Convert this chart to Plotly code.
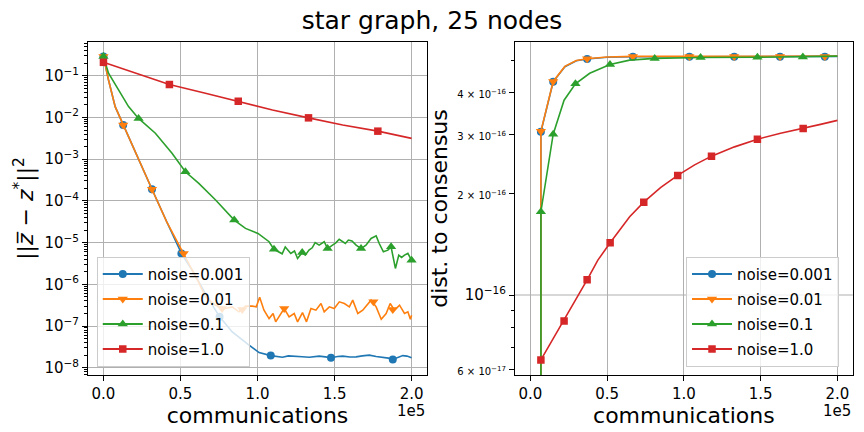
import plotly.graph_objects as go

# ---------------- data ----------------
NAMES = ["noise=0.001", "noise=0.01", "noise=0.1", "noise=1.0"]
COLORS = ["#1f77b4", "#ff7f0e", "#2ca02c", "#d62728"]
SYMBOLS = ["circle", "triangle-down", "triangle-up", "square"]
SIZES = [8, 9, 9, 7.5]

X_TICKS = [0, 50000, 100000, 150000, 200000]
X_LABELS = ["0.0", "0.5", "1.0", "1.5", "2.0"]

# left panel: ||zbar - z*||^2 vs communications
l_x_001 = [0, 3300, 7600, 12800, 20000, 31500, 41000, 50600, 57500, 66200, 75400, 83600, 94500,
           101000, 108600, 112000, 116200, 120000, 124900, 129000, 133600, 137000, 140000, 144000,
           147700, 152000, 155300, 160000, 164000, 168000, 172600, 177000, 181300, 185000, 187800,
           191000, 194300, 197000, 200000]
l_y_001 = [0.288, 0.0794, 0.0182, 0.0066, 0.0017, 1.9e-4, 3.2e-5, 5.5e-6, 2.2e-6, 6.0e-7, 1.66e-7,
           7.2e-8, 3.5e-8, 2.3e-8, 1.95e-8, 1.85e-8, 1.78e-8, 1.92e-8, 1.9e-8, 1.83e-8, 1.78e-8,
           1.88e-8, 1.9e-8, 1.82e-8, 1.74e-8, 1.86e-8, 1.9e-8, 1.8e-8, 1.82e-8, 1.92e-8, 2.0e-8,
           1.85e-8, 1.78e-8, 1.7e-8, 1.58e-8, 1.75e-8, 1.95e-8, 1.9e-8, 1.74e-8]
l_mx_001 = [0, 12800, 31500, 50600, 75400, 108600, 147700, 187800]
l_my_001 = [0.288, 0.0066, 1.9e-4, 5.5e-6, 1.66e-7, 1.95e-8, 1.74e-8, 1.58e-8]

l_x_01 = [0, 3300, 7600, 12800, 20000, 31500, 41000, 52100, 57500, 61900, 66200, 72700, 79200,
          83600, 87900, 92300, 96600, 99200, 101400, 104200, 107500, 110100, 111800, 115000,
          117300, 120500, 123800, 126000, 129200, 131800, 134700, 137900, 141200, 143300, 146600,
          149800, 153100, 156400, 159600, 161800, 165100, 168300, 171600, 173700, 177000, 180300,
          183500, 186100, 188900, 192200, 195400, 197600, 199200, 200000]
l_y_01 = [0.288, 0.0794, 0.0182, 0.0066, 0.0017, 1.9e-4, 3.2e-5, 5.5e-6, 2.2e-6, 1.1e-6, 5.0e-7,
          3.16e-7, 2.63e-7, 2.88e-7, 2.19e-7, 3.0e-7, 3.0e-7, 2.88e-7, 4.9e-7, 2.4e-7, 1.51e-7,
          2.0e-7, 1.26e-7, 2.0e-7, 2.63e-7, 1.66e-7, 2.0e-7, 1.26e-7, 2.1e-7, 1.26e-7, 2.63e-7,
          2.4e-7, 3.47e-7, 2.19e-7, 2.88e-7, 2.63e-7, 3.8e-7, 3.47e-7, 2.88e-7, 4.17e-7, 2.0e-7,
          2.4e-7, 3.47e-7, 4.17e-7, 2.88e-7, 1.45e-7, 2.0e-7, 3.47e-7, 2.4e-7, 3.16e-7, 2.0e-7,
          2.19e-7, 1.45e-7, 1.82e-7]
l_mx_01 = [0, 12800, 31500, 52100, 77000, 90100, 117300, 175200, 187800]
l_my_01 = [0.288, 0.0066, 1.9e-4, 5.5e-6, 2.63e-7, 2.5e-7, 2.63e-7, 3.8e-7, 2.5e-7]

l_x_1 = [0, 3300, 9800, 16300, 22800, 33700, 44500, 53200, 61900, 72800, 84900, 92200, 100300,
         107500, 110700, 114000, 116000, 118000, 121600, 124000, 126000, 129000, 131000, 133400,
         135500, 137400, 140000, 143300, 145500, 148700, 151000, 153000, 155000, 157000, 159000,
         161300, 164000, 167200, 170400, 173700, 177000, 179000, 181700, 184600, 186700, 188000,
         189500, 191700, 193500, 195400, 197600, 200000]
l_y_1 = [0.288, 0.115, 0.0457, 0.0182, 0.0095, 0.0042, 0.00138, 5.0e-4, 2.63e-4, 1.05e-4, 3.47e-5,
         2.19e-5, 1.66e-5, 1.05e-5, 6.9e-6, 6.0e-6, 5.4e-6, 7.9e-6, 5.5e-6, 6.3e-6, 4.17e-6,
         5.75e-6, 5.0e-6, 6.6e-6, 7.5e-6, 1.0e-5, 8.7e-6, 1.05e-5, 7.2e-6, 8.7e-6, 1.0e-5, 1.2e-5,
         1.05e-5, 9.5e-6, 1.15e-5, 1.1e-5, 8.7e-6, 7.2e-6, 8.7e-6, 1.26e-5, 1.45e-5, 9.5e-6,
         6.0e-6, 6.6e-6, 7.9e-6, 4.5e-6, 2.4e-6, 5.0e-6, 4.4e-6, 5.0e-6, 5.5e-6, 3.8e-6]
l_mx_1 = [0, 22800, 53200, 84900, 110700, 129000, 145500, 167200, 186700, 200000]
l_my_1 = [0.288, 0.0095, 5.0e-4, 3.47e-5, 6.9e-6, 5.75e-6, 7.2e-6, 7.2e-6, 7.9e-6, 3.8e-6]

l_x_10 = [0, 20600, 42800, 66200, 87500, 109700, 133100, 155300, 178100, 200000]
l_y_10 = [0.21, 0.115, 0.0617, 0.038, 0.0245, 0.0151, 0.0098, 0.0066, 0.0047, 0.00316]
l_mx_10 = [0, 42800, 87500, 133100, 178100]
l_my_10 = [0.21, 0.0617, 0.0245, 0.0098, 0.0047]

# right panel: distance to consensus vs communications
r_x_001 = [6900, 6900, 14900, 22500, 30000, 37000, 50000, 66800, 103600, 132800, 162600, 191800, 200000]
r_y_001 = [1e-18, 3.06e-16, 4.31e-16, 4.78e-16, 4.98e-16, 5.04e-16, 5.10e-16, 5.12e-16, 5.12e-16,
           5.12e-16, 5.12e-16, 5.12e-16, 5.13e-16]
r_mx_001 = [6900, 14900, 37000, 66800, 103600, 132800, 162600, 191800]
r_my_001 = [3.06e-16, 4.31e-16, 5.04e-16, 5.12e-16, 5.12e-16, 5.12e-16, 5.12e-16, 5.12e-16]

r_x_01 = [6900, 6900, 14900, 22500, 30000, 37000, 50000, 66800, 103600, 132800, 162600, 191800, 200000]
r_y_01 = [1e-18, 3.07e-16, 4.32e-16, 4.79e-16, 4.99e-16, 5.05e-16, 5.11e-16, 5.13e-16, 5.13e-16,
          5.13e-16, 5.13e-16, 5.13e-16, 5.14e-16]
r_mx_01 = [6900, 14900, 37000, 66800, 103600, 132800, 162600, 191800]
r_my_01 = [3.07e-16, 4.32e-16, 5.05e-16, 5.13e-16, 5.13e-16, 5.13e-16, 5.13e-16, 5.13e-16]

r_x_1 = [6900, 6900, 14900, 22000, 29400, 38700, 51900, 64700, 81000, 110900, 147900, 177500, 200000]
r_y_1 = [1e-18, 1.77e-16, 3.01e-16, 3.80e-16, 4.25e-16, 4.57e-16, 4.85e-16, 5.0e-16, 5.06e-16,
         5.09e-16, 5.10e-16, 5.11e-16, 5.14e-16]
r_mx_1 = [6900, 14900, 29400, 51900, 81000, 110900, 147900, 177500]
r_my_1 = [1.77e-16, 3.01e-16, 4.25e-16, 4.85e-16, 5.06e-16, 5.09e-16, 5.10e-16, 5.11e-16]

r_x_10 = [6900, 14000, 22000, 30000, 37000, 44000, 52000, 64700, 73900, 85000, 96000, 107000,
          118000, 133000, 147900, 163000, 177700, 189000, 200000]
r_y_10 = [6.41e-17, 7.3e-17, 8.37e-17, 9.7e-17, 1.11e-16, 1.27e-16, 1.43e-16, 1.71e-16, 1.89e-16,
          2.09e-16, 2.27e-16, 2.44e-16, 2.59e-16, 2.76e-16, 2.91e-16, 3.03e-16, 3.13e-16, 3.22e-16,
          3.31e-16]
r_mx_10 = [6900, 22000, 37000, 52000, 73900, 96000, 118000, 147900, 177700]
r_my_10 = [6.41e-17, 8.37e-17, 1.11e-16, 1.43e-16, 1.89e-16, 2.27e-16, 2.59e-16, 2.91e-16, 3.13e-16]

LEFT_Y_EXP = [-8, -7, -6, -5, -4, -3, -2, -1]
RIGHT_Y_TICKS = [6e-17, 1e-16, 2e-16, 3e-16, 4e-16]
RIGHT_Y_LABELS = ["6 × 10<sup>−17</sup>", "10<sup>−16</sup>", "2 × 10<sup>−16</sup>",
                  "3 × 10<sup>−16</sup>", "4 × 10<sup>−16</sup>"]
RIGHT_Y_MINOR = [7e-17, 8e-17, 9e-17, 5e-16]

# ---------------- figure ----------------
fig = go.Figure()

left = [(l_x_001, l_y_001, l_mx_001, l_my_001), (l_x_01, l_y_01, l_mx_01, l_my_01),
        (l_x_1, l_y_1, l_mx_1, l_my_1), (l_x_10, l_y_10, l_mx_10, l_my_10)]
right = [(r_x_001, r_y_001, r_mx_001, r_my_001), (r_x_01, r_y_01, r_mx_01, r_my_01),
         (r_x_1, r_y_1, r_mx_1, r_my_1), (r_x_10, r_y_10, r_mx_10, r_my_10)]

LW = 1.6
for panel, xa, ya, leg in [(left, "x", "y", "legend"), (right, "x2", "y2", "legend2")]:
    for i, (x, y, mx, my) in enumerate(panel):
        fig.add_trace(go.Scatter(x=x, y=y, mode="lines", line=dict(color=COLORS[i], width=LW),
                                 xaxis=xa, yaxis=ya, showlegend=False, hoverinfo="skip"))
        fig.add_trace(go.Scatter(x=mx, y=my, mode="markers",
                                 marker=dict(symbol=SYMBOLS[i], size=SIZES[i], color=COLORS[i]),
                                 xaxis=xa, yaxis=ya, showlegend=False))
    for i in range(4):
        fig.add_trace(go.Scatter(x=[None], y=[None], mode="lines+markers", name=NAMES[i],
                                 line=dict(color=COLORS[i], width=2),
                                 marker=dict(symbol=SYMBOLS[i], size=SIZES[i], color=COLORS[i]),
                                 xaxis=xa, yaxis=ya, legend=leg, legendgroup=f"{leg}_{i}"))

GRID = "#b0b0b0"
common_axis = dict(showline=True, mirror=True, linecolor="black", linewidth=1.1,
                   ticks="outside", ticklen=5, tickwidth=1.1, tickcolor="black",
                   gridcolor=GRID, gridwidth=1.1, zeroline=False, automargin=False,
                   tickfont=dict(size=15, color="black"))

left_minor = [m * 10.0 ** e for e in range(-9, 0) for m in range(2, 10)]

legend_style = dict(xanchor="left", yanchor="bottom", y=0.151,
                    bgcolor="rgba(255,255,255,0.8)", bordercolor="#cccccc", borderwidth=1,
                    font=dict(size=15), traceorder="grouped", tracegroupgap=2.5, itemwidth=40)

fig.update_layout(
    width=864, height=432, margin=dict(l=0, r=0, t=0, b=0),
    paper_bgcolor="white", plot_bgcolor="white",
    font=dict(family="DejaVu Sans", size=15, color="black"),
    title=dict(text="star graph, 25 nodes", x=0.5, xanchor="center", y=0.953, yanchor="middle",
               yref="container", font=dict(size=25, color="black")),
    xaxis=dict(domain=[0.1019, 0.4942], anchor="y", range=[-10000, 210000],
               tickmode="array", tickvals=X_TICKS, ticktext=X_LABELS, showgrid=True,
               title=dict(text="communications", font=dict(size=22), standoff=0), **common_axis),
    yaxis=dict(domain=[0.1319, 0.9028], anchor="x", type="log", range=[-8.175, -0.19],
               tickmode="array", tickvals=[10.0 ** e for e in LEFT_Y_EXP],
               ticktext=[f"10<sup>−{-e}</sup>" for e in LEFT_Y_EXP], showgrid=True,
               minor=dict(tickmode="array", tickvals=left_minor, ticks="outside", ticklen=2.8,
                          tickwidth=0.8, tickcolor="black", showgrid=False),
               title=dict(text="||<i>z̅</i> − <i>z</i><sup>*</sup>||<sup>2</sup>", font=dict(size=22), standoff=4),
               **common_axis),
    xaxis2=dict(domain=[0.596, 0.987], anchor="y2", range=[-10000, 210000],
                tickmode="array", tickvals=X_TICKS, ticktext=X_LABELS, showgrid=True,
                title=dict(text="communications", font=dict(size=22), standoff=0), **common_axis),
    yaxis2=dict(domain=[0.1319, 0.9028], anchor="x2", type="log", range=[-16.238, -15.247],
                tickmode="array", tickvals=RIGHT_Y_TICKS,
                ticktext=[t if t.startswith("10") else f"<span style='font-size:10px'>{t}</span>"
                          for t in RIGHT_Y_LABELS],
                showgrid=False,
                minor=dict(tickmode="array", tickvals=RIGHT_Y_MINOR, ticks="outside", ticklen=2.8,
                           tickwidth=0.8, tickcolor="black", showgrid=False),
                title=dict(text="dist. to consensus", font=dict(size=22), standoff=3),
                **common_axis),
    legend=dict(x=0.112, **legend_style),
    legend2=dict(x=0.794, **legend_style),
    annotations=[
        dict(text="1e5", xref="paper", yref="paper", x=0.4942, y=1 - 411 / 432, xanchor="right",
             yanchor="middle", showarrow=False, font=dict(size=15)),
        dict(text="1e5", xref="paper", yref="paper", x=0.987, y=1 - 411 / 432, xanchor="right",
             yanchor="middle", showarrow=False, font=dict(size=15)),
    ],
)

# single horizontal grid line at the major decade of the right panel
fig.add_shape(type="line", xref="x2 domain", yref="y2", x0=0, x1=1, y0=1e-16, y1=1e-16,
              line=dict(color=GRID, width=1.1), layer="below")

fig.write_html("out.html", config={"displayModeBar": False},
               post_script="document.body.style.margin='0';document.body.style.overflow='hidden';")
